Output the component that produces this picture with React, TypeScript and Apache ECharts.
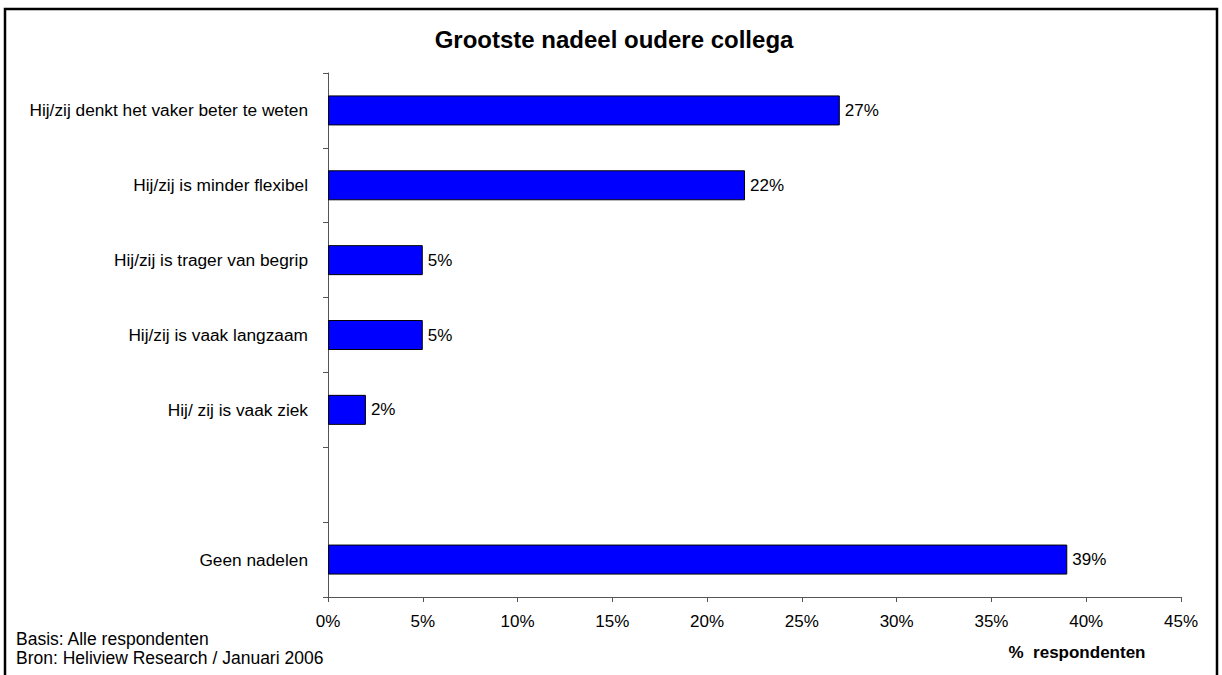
import React, { useEffect, useRef } from "react";
import * as echarts from "echarts";

const categories = [
  "Geen nadelen",
  "",
  "Hij/ zij is vaak ziek",
  "Hij/zij is vaak langzaam",
  "Hij/zij is trager van begrip",
  "Hij/zij is minder flexibel",
  "Hij/zij denkt het vaker beter te weten",
];
const values: (number | null)[] = [39, null, 2, 5, 5, 22, 27];
const title = "Grootste nadeel oudere collega";
const axisName = "%  respondenten";
const footnotes = ["Basis: Alle respondenten", "Bron: Heliview Research / Januari 2006"];

const FONT = "'Liberation Sans', Arial, sans-serif";

export default function App() {
  const ref = useRef<HTMLDivElement>(null);
  useEffect(() => {
    if (!ref.current) return;
    const chart = echarts.init(ref.current, null, { renderer: "svg" });
    chart.setOption({
      animation: false,
      backgroundColor: "#fff",
      grid: { left: 328, right: 41, top: 73, bottom: 78, containLabel: false },
      xAxis: {
        type: "value",
        min: 0,
        max: 45,
        interval: 5,
        axisLine: { show: true, lineStyle: { color: "#555", width: 1 } },
        axisTick: { show: true, length: 5, lineStyle: { color: "#555" } },
        splitLine: { show: false },
        axisLabel: {
          formatter: "{value}%",
          fontFamily: FONT,
          fontSize: 17,
          color: "#000",
          margin: 16,
        },
      },
      yAxis: {
        type: "category",
        data: categories,
        boundaryGap: true,
        axisLine: { show: true, lineStyle: { color: "#555", width: 1 } },
        axisTick: { show: true, length: 5, lineStyle: { color: "#555" } },
        axisLabel: { fontFamily: FONT, fontSize: 17.3, color: "#000", margin: 20 },
      },
      series: [
        {
          type: "bar",
          data: values,
          barWidth: 30,
          itemStyle: { color: "#0000FF", borderColor: "#000", borderWidth: 1 },
          label: {
            show: true,
            position: "right",
            distance: 5,
            formatter: "{c}%",
            fontFamily: FONT,
            fontSize: 17,
            color: "#000",
          },
        },
      ],
      graphic: [
        {
          type: "rect",
          shape: { x: 5, y: 9, width: 1212, height: 700 },
          style: { fill: "none", stroke: "#000", lineWidth: 2.5 },
          silent: true,
        },
        {
          type: "text",
          x: 614,
          y: 39,
          style: {
            text: title,
            font: `bold 24px ${FONT}`,
            fill: "#000",
            align: "center",
            verticalAlign: "middle",
          },
        },
        {
          type: "text",
          x: 1077,
          y: 652,
          style: {
            text: axisName,
            font: `bold 17px ${FONT}`,
            fill: "#000",
            align: "center",
            verticalAlign: "middle",
          },
        },
        {
          type: "text",
          x: 16,
          y: 639,
          style: { text: footnotes[0], font: `17.5px ${FONT}`, fill: "#000", verticalAlign: "middle" },
        },
        {
          type: "text",
          x: 16,
          y: 658,
          style: { text: footnotes[1], font: `17.5px ${FONT}`, fill: "#000", verticalAlign: "middle" },
        },
      ],
    });
    return () => chart.dispose();
  }, []);
  return (
    <div
      ref={ref}
      style={{ position: "absolute", left: 0, top: 0, width: 1222, height: 675 }}
    />
  );
}
